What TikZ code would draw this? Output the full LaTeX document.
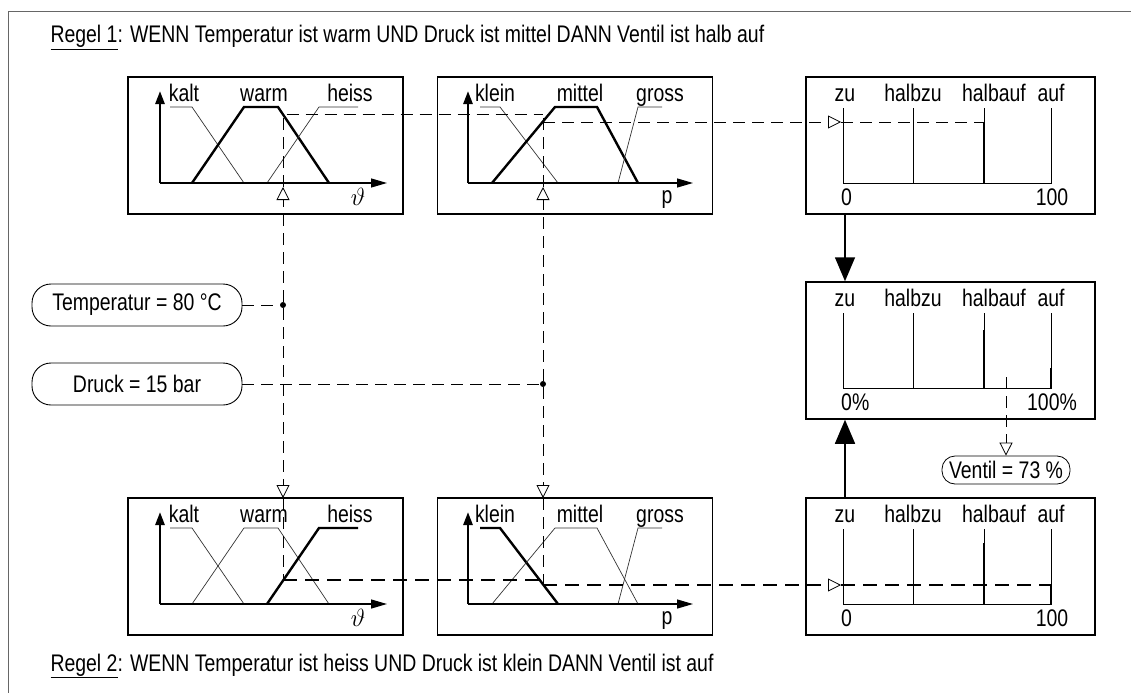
\documentclass[tikz,border=0pt]{standalone}
\usepackage{fontspec}
\setmainfont{Liberation Sans}[FakeStretch=0.81]
\usetikzlibrary{arrows.meta,positioning}
\newcommand{\lblsize}{\fontsize{24}{28}\selectfont}
%--- fuzzy sets, origin at the corner of the axes ---
\newcommand{\tempsets}[3]{%
  \draw[#1] (10,-76) -- (32,-76) -- (84,0);
  \draw[#2] (32,0) -- (84,-76) -- (118,-76) -- (169,0);
  \draw[#3] (107,0) -- (159,-76) -- (198,-76);
  \node[setname] at (24,-82) {kalt};
  \node[setname] at (104,-82) {warm};
  \node[setname] at (190,-82) {heiss};
  \draw[yaxis] (0,0) -- (0,-92);
  \draw[xaxis] (0,0) -- (227,0);
  \node[setname] at (198,22) {$\vartheta$};}
\newcommand{\pressets}[3]{%
  \draw[#1] (12,-76) -- (32,-76) -- (90,0);
  \draw[#2] (24,0) -- (87,-76) -- (129,-76) -- (170,0);
  \draw[#3] (150,0) -- (170,-76) -- (194,-76);
  \node[setname] at (27,-82) {klein};
  \node[setname] at (112,-82) {mittel};
  \node[setname] at (192,-82) {gross};
  \draw[yaxis] (0,0) -- (0,-92);
  \draw[xaxis] (0,0) -- (225,0);
  \node[setname] at (199,20) {p};}
\newcommand{\valvescale}[2]{%
  \draw[vline] (0,-75) -- (0,0) -- (208,0) -- (208,-75);
  \draw[vline] (70,0) -- (70,-75);
  \draw[vline] (141,0) -- (141,-75);
  \node[setname] at (2,-82) {zu};
  \node[setname] at (70,-82) {halbzu};
  \node[setname] at (151,-82) {halbauf};
  \node[setname] at (208,-82) {auf};
  \node[setname,anchor=base west] at (-2,22) {#1};
  \node[setname] at (209,22) {#2};}

\begin{document}
\begin{tikzpicture}[
  x=1pt,y=-1pt,
  every node/.style={font=\lblsize},
  panel/.style={draw,line width=1.5pt,minimum width=275pt,minimum height=137pt,inner sep=0pt},
  vpanel/.style={panel,minimum width=289pt},
  setname/.style={anchor=base,inner sep=0pt},
  mf/.style={line width=0.7pt,black!80},
  mfon/.style={line width=2.4pt,black},
  yaxis/.style={line width=2.6pt,-{Triangle[length=13pt,width=9pt]}},
  xaxis/.style={line width=1.3pt,-{Triangle[length=16pt,width=9pt]}},
  vline/.style={line width=0.8pt},
  vbar/.style={line width=2.6pt},
  dline/.style={line width=0.8pt,dash pattern=on 12pt off 7pt},
  dlineb/.style={line width=1.8pt,dash pattern=on 14pt off 8pt},
  opentip/.style={-{Triangle[open,fill=white,length=13pt,width=13pt,line width=0.8pt]}},
  invalue/.style={draw,rounded corners=19pt,minimum width=210pt,minimum height=42pt,line width=0.9pt},
  outvalue/.style={draw,rounded corners=13pt,inner xsep=7pt,minimum height=28pt,line width=0.8pt},
  dot/.style={circle,fill,inner sep=0pt,minimum size=6pt},
  bigarr/.style={line width=1.5pt,-{Triangle[length=24pt,width=20pt]}},
  framel/.style={line width=1pt,black!60}]
\useasboundingbox (0,0) rectangle (1131,693);
\draw[framel] (1131,12) -- (8,12) -- (8,693);
%--- Rules ---
\node[anchor=base west] (regel1) at (47,43) {\underline{Regel 1}: WENN Temperatur ist warm UND Druck ist mittel DANN Ventil ist halb auf};
\node[anchor=base west] (regel2) at (47,671) {\underline{Regel 2}: WENN Temperatur ist heiss UND Druck ist klein DANN Ventil ist auf};
%--- Panels ---
\node[panel]  (T1) at (265.5,145.5) {};
\node[panel]  (P1) at (575,145.5) {};
\node[vpanel] (V1) at (950.5,145.5) {};
\node[vpanel] (VR) at (950.5,350.5) {};
\node[panel]  (T3) at (265.5,566.5) {};
\node[panel]  (P3) at (575,566.5) {};
\node[vpanel] (V3) at (950.5,566.5) {};
\begin{scope}[shift={(160,183)}]\tempsets{mf}{mfon}{mf}\end{scope}
\begin{scope}[shift={(468,183)}]\pressets{mf}{mfon}{mf}\end{scope}
\begin{scope}[shift={(843,183)}]
  \valvescale{0}{100}
  \draw[vbar] (141,-61) -- (141,0);
\end{scope}
\begin{scope}[shift={(843,388)}]
  \valvescale{0\%}{100\%}
  \draw[vbar] (141,-58) -- (141,0);
  \draw[vbar] (208,-20) -- (208,0);
\end{scope}
\begin{scope}[shift={(160,604)}]\tempsets{mf}{mf}{mfon}\end{scope}
\begin{scope}[shift={(468,604)}]\pressets{mfon}{mf}{mf}\end{scope}
\begin{scope}[shift={(843,604)}]
  \valvescale{0}{100}
  \draw[vbar] (141,-61) -- (141,0);
  \draw[vbar] (208,-18) -- (208,0);
\end{scope}
%--- Inputs ---
\node[invalue] (temp)  at (137,305) {Temperatur = 80 °C};
\node[invalue] (druck) at (137,384) {Druck = 15 bar};
\node[dot] (tdot) at (283,305) {};
\node[dot] (pdot) at (543,384) {};
\coordinate (t1in)  at (283,187);
\coordinate (t1cut) at (283,114.5);
\coordinate (p1in)  at (543,187);
\coordinate (p1top) at (543,114.5);
\coordinate (p1cut) at (543,122);
\coordinate (v1in)  at (841,122);
\coordinate (v1end) at (984,122);
\coordinate (t3in)  at (283,498);
\coordinate (t3cut) at (283,580);
\coordinate (p3hit) at (543,580);
\coordinate (p3in)  at (543,498);
\coordinate (p3cut) at (543,585);
\coordinate (v3in)  at (841,585);
\coordinate (v3end) at (1051,585);
%--- Output ---
\node[outvalue] (ventil) at (1006,470) {Ventil = 73 \%};
\coordinate (vcut) at (1006,377);
\coordinate (vx) at (845,0);
%--- Rule 1 lines ---
\draw[dline] (temp.east) -- (tdot);
\draw[dline] (druck.east) -- (pdot);
\draw[dline,opentip] (tdot) -- (t1in);
\draw[dline] (t1in) -- (t1cut) -- (p1top);
\draw[dline,opentip] (pdot) -- (p1in);
\draw[dline] (p1in) -- (p1top);
\draw[dline,opentip] (p1cut) -- (v1in);
\draw[dline] (v1in) -- (v1end);
%--- Rule 2 lines ---
\draw[dline,opentip] (tdot) -- (t3in);
\draw[dline] (t3in) -- (t3cut);
\draw[dlineb] (t3cut) -- (p3hit);
\draw[dline,opentip] (pdot) -- (p3in);
\draw[dline] (p3in) -- (p3cut);
\draw[dlineb,opentip] (p3cut) -- (v3in);
\draw[dlineb] (v3in) -- (v3end);
%--- Aggregation ---
\draw[dline,opentip] (vcut) -- (ventil.north);
\draw[bigarr] (V1.south -| vx) -- (VR.north -| vx);
\draw[bigarr] (V3.north -| vx) -- (VR.south -| vx);
\end{tikzpicture}
\end{document}
